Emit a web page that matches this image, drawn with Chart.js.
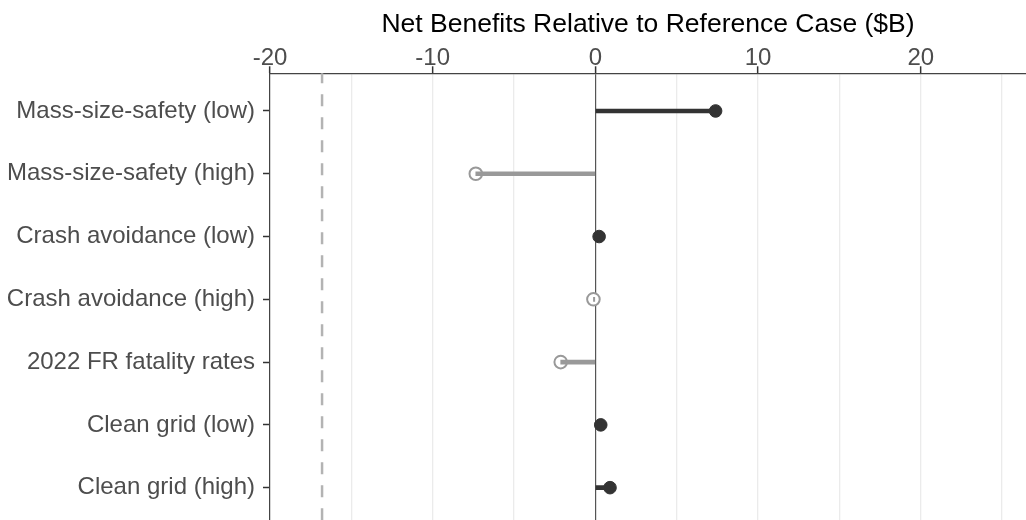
<!DOCTYPE html>
<html>
<head>
<meta charset="utf-8">
<script src="https://cdn.jsdelivr.net/npm/chart.js@4/dist/chart.umd.min.js"></script>
<style>
	html, body { margin: 0; padding: 0; background: #fff; overflow: hidden; }
	#wrap { width: 1026px; height: 520px; }
</style>
</head>
<body>
<div id="wrap"><canvas id="chart"></canvas></div>
<script>
// data
const categories = [
	'Mass-size-safety (low)',
	'Mass-size-safety (high)',
	'Crash avoidance (low)',
	'Crash avoidance (high)',
	'2022 FR fatality rates',
	'Clean grid (low)',
	'Clean grid (high)'
];
const netBenefits = [7.39, -7.35, 0.23, -0.12, -2.13, 0.33, 0.9];
const referenceLine = -16.8;
const xTicks = [-20, -15, -10, -5, 0, 5, 10, 15, 20, 25];

const dark = '#333333';
const light = '#999999';

Chart.defaults.font.family = '"Liberation Sans", Arial, sans-serif';
Chart.defaults.font.size = 24;
Chart.defaults.color = '#4d4d4d';

// the axes keep no extra padding so the plot runs to the right and bottom edges
function noPadding(scale) {
	scale.paddingLeft = 0;
	scale.paddingRight = 0;
	scale.paddingTop = 0;
	scale.paddingBottom = 0;
}

let config = {
	type: 'bar',
	data: {
		datasets: [
			{
				type: 'line',
				data: [{x: referenceLine, y: -1}, {x: referenceLine, y: 8}],
				borderColor: '#b3b3b3',
				borderWidth: 2.5,
				borderDash: [12, 11],
				pointRadius: 0
			},
			{
				type: 'bar',
				data: netBenefits.map((v, i) => ({y: i, x: [0, v]})),
				backgroundColor: netBenefits.map(v => v >= 0 ? dark : light),
				borderWidth: 0,
				barThickness: 4
			},
			{
				type: 'scatter',
				data: netBenefits.map((v, i) => ({x: v, y: i})),
				pointRadius: 6.3,
				pointBackgroundColor: netBenefits.map(v => v >= 0 ? dark : '#ffffff'),
				pointBorderColor: netBenefits.map(v => v >= 0 ? dark : light),
				pointBorderWidth: netBenefits.map(v => v >= 0 ? 1 : 2)
			}
		]
	},
	options: {
		indexAxis: 'y',
		responsive: true,
		maintainAspectRatio: false,
		animation: false,
		layout: { padding: 0, autoPadding: false },
		plugins: {
			legend: { display: false },
			tooltip: { enabled: false }
		},
		scales: {
			x: {
				type: 'linear',
				position: 'top',
				min: -20,
				max: 26.47,
				offset: false,
				afterBuildTicks: (scale) => {
					scale.ticks = xTicks.map(v => ({value: v}));
				},
				afterFit: (scale) => {
					scale.height = 73.3;
					noPadding(scale);
				},
				ticks: {
					autoSkip: false,
					maxRotation: 0,
					padding: -6,
					color: '#4d4d4d',
					callback: (v) => v % 10 === 0 ? String(v) : ''
				},
				grid: {
					offset: false,
					color: (ctx) => ctx.tick && ctx.tick.value === 0 ? '#555555' : '#ebebeb',
					lineWidth: (ctx) => ctx.tick && ctx.tick.value === 0 ? 1.2 : 1.3,
					tickColor: (ctx) => ctx.tick && ctx.tick.value % 10 === 0 ? dark : 'rgba(0,0,0,0)',
					tickLength: 7,
					tickWidth: 1.5
				},
				border: { color: '#444444', width: 1.2 },
				title: {
					display: true,
					text: 'Net Benefits Relative to Reference Case ($B)',
					color: '#000000',
					font: { size: 26.5 },
					padding: { top: 9, bottom: 0 }
				}
			},
			y: {
				type: 'linear',
				reverse: true,
				min: -0.6,
				max: 6.515,
				offset: false,
				afterBuildTicks: (scale) => {
					scale.ticks = categories.map((c, i) => ({value: i}));
				},
				afterFit: (scale) => {
					scale.width = 270;
					noPadding(scale);
				},
				ticks: {
					autoSkip: false,
					padding: 8,
					color: '#4d4d4d',
					callback: (v) => categories[v]
				},
				grid: {
					display: true,
					drawTicks: true,
					offset: false,
					drawOnChartArea: false,
					color: dark,
					lineWidth: 1,
					tickColor: (ctx) => dark,
					tickLength: 7,
					tickWidth: 1.5
				},
				border: { color: '#444444', width: 1.2 }
			}
		}
	}
};

window.addEventListener('load', () => {
	const ctx = document.getElementById('chart').getContext('2d');
	const myChart = new Chart(ctx, config);
});
</script>
</body>
</html>
